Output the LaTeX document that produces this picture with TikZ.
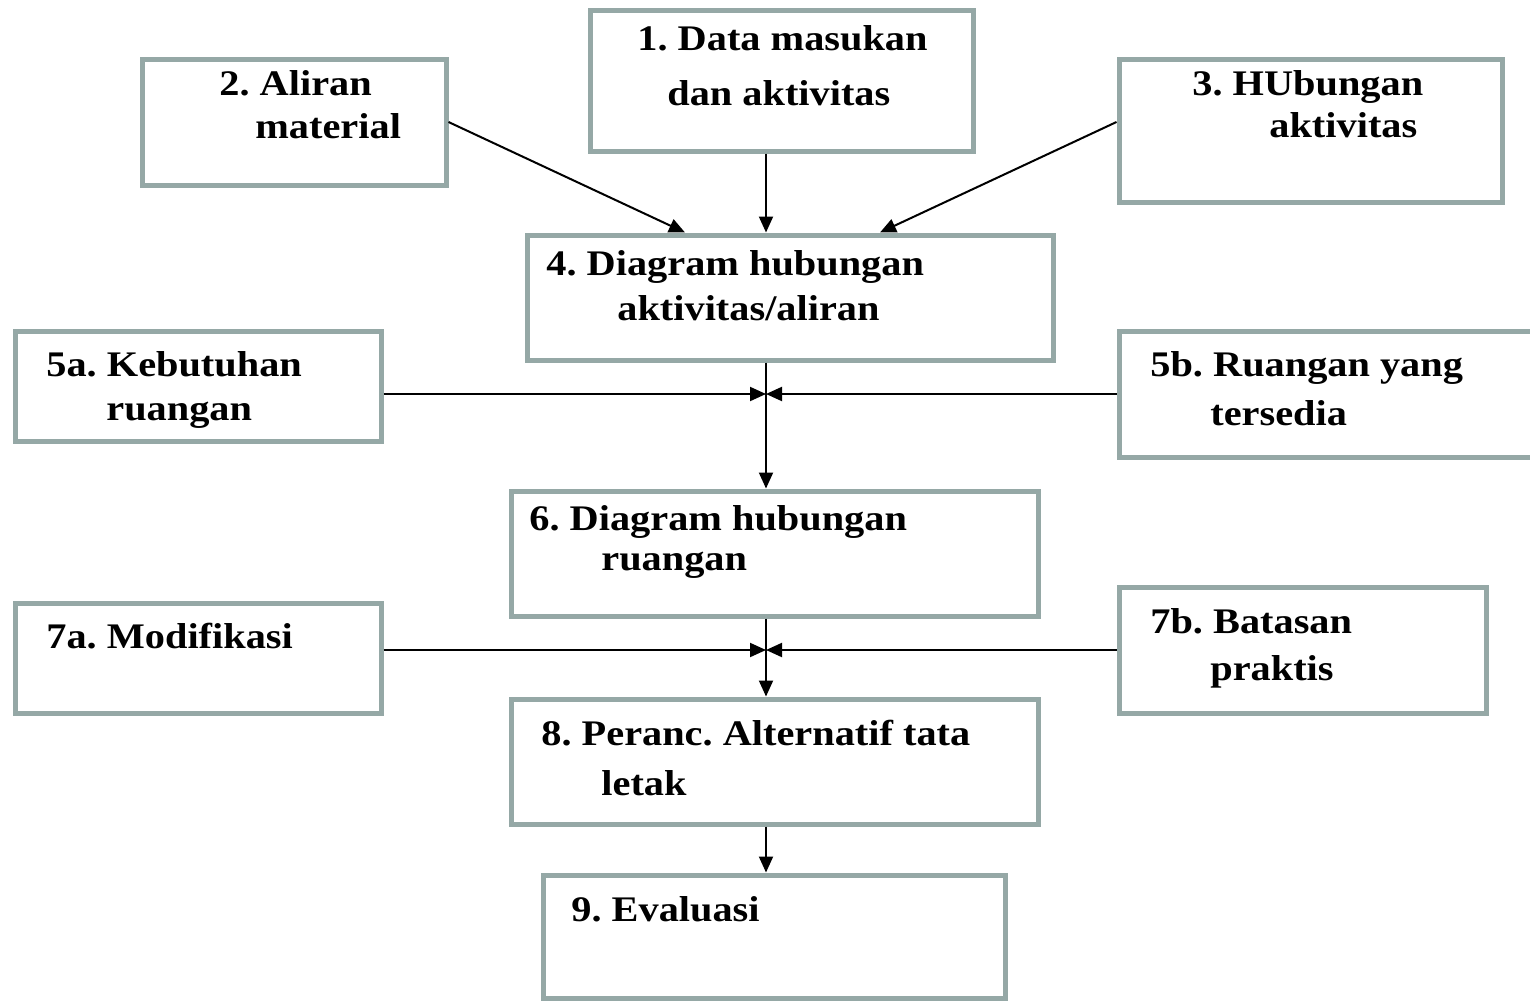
\documentclass[tikz,border=0pt]{standalone}
\usepackage{fontspec}
\setmainfont{Liberation Serif}[FakeStretch=1.12]
\frenchspacing
\usetikzlibrary{arrows.meta}
\usetikzlibrary{positioning}
\definecolor{boxgray}{HTML}{95A8A6}
\tikzset{x=0.5pt, y=-0.5pt, % work in pixels of the original, y downwards
box/.style={ % grey framed boxes
draw=boxgray,
line width=2.5pt,
fill=white,
inner sep=0pt},
lbl/.style={ % one line of text inside a box
anchor=base west,
inner sep=0pt,
font=\fontsize{18}{22}\selectfont\bfseries},
flow/.style={ % black connectors
draw,
-{Triangle[length=8pt,width=7pt]},
line width=1pt}}

\begin{document}
\begin{tikzpicture}
                \useasboundingbox (0,0) rectangle (1530,1001);

                % boxes
                \node[box, minimum width=191.5pt, minimum height=70.5pt] (b1) at (781.5,80.5) {};
                \node[box, minimum width=152pt, minimum height=63pt] (b2) at (294,122) {};
                \node[box, minimum width=191.5pt, minimum height=71.5pt] (b3) at (1310.5,130.5) {};
                \node[box, minimum width=263pt, minimum height=62.5pt] (b4) at (790,297.5) {};
                \node[box, minimum width=183pt, minimum height=55pt] (b5a) at (198,386) {};
                \node[box, minimum width=213pt, minimum height=63pt] (b5b) at (1332,394) {};
                \node[box, minimum width=263.5pt, minimum height=62.5pt] (b6) at (774.5,553.5) {};
                \node[box, minimum width=183pt, minimum height=55pt] (b7a) at (198,658) {};
                \node[box, minimum width=183.5pt, minimum height=63pt] (b7b) at (1302.5,650) {};
                \node[box, minimum width=263.5pt, minimum height=62.5pt] (b8) at (774.5,761.5) {};
                \node[box, minimum width=231pt, minimum height=61.5pt] (b9) at (774,936.5) {};

                % texts
                \node[lbl] (t1a) at (637,50) {1. Data masukan};
                \node[lbl] (t1b) at (667,105) {dan aktivitas};
                \node[lbl] (t2a) at (219,95) {2. Aliran};
                \node[lbl] (t2b) at (255,138) {material};
                \node[lbl] (t3a) at (1192,95) {3. HUbungan};
                \node[lbl] (t3b) at (1269,137) {aktivitas};
                \node[lbl] (t4a) at (546,275) {4. Diagram hubungan};
                \node[lbl] (t4b) at (617,320) {aktivitas/aliran};
                \node[lbl] (t5aa) at (46,376) {5a. Kebutuhan};
                \node[lbl] (t5ab) at (106,420) {ruangan};
                \node[lbl] (t5ba) at (1150,376) {5b. Ruangan yang};
                \node[lbl] (t5bb) at (1210,425) {tersedia};
                \node[lbl] (t6a) at (529,530) {6. Diagram hubungan};
                \node[lbl] (t6b) at (601,570) {ruangan};
                \node[lbl] (t7a) at (46,648) {7a. Modifikasi};
                \node[lbl] (t7ba) at (1150,633) {7b. Batasan};
                \node[lbl] (t7bb) at (1210,680) {praktis};
                \node[lbl] (t8a) at (541,745) {8. Peranc. Alternatif tata};
                \node[lbl] (t8b) at (601,795) {letak};
                \node[lbl] (t9) at (571,921) {9. Evaluasi};

                % spine and junctions
                \coordinate (spine) at (766,0);
                \coordinate (j5) at (766,394);
                \coordinate (j7) at (766,650);

                \draw[flow] (b2.east) -- ([xshift=-52.5pt]b4.north);
                \draw[flow] (b1.south -| spine) -- (b4.north -| spine);
                \draw[flow] (b3.west |- b2.east) -- ([xshift=45pt]b4.north);
                \draw[flow] (b4.south -| spine) -- (b6.north -| spine);
                \draw[flow] (b5a.east |- j5) -- (j5);
                \draw[flow] (b5b.west |- j5) -- (j5);
                \draw[flow] (b6.south -| spine) -- (b8.north -| spine);
                \draw[flow] (b7a.east |- j7) -- (j7);
                \draw[flow] (b7b.west |- j7) -- (j7);
                \draw[flow] (b8.south -| spine) -- (b9.north -| spine);
\end{tikzpicture}
\end{document}
